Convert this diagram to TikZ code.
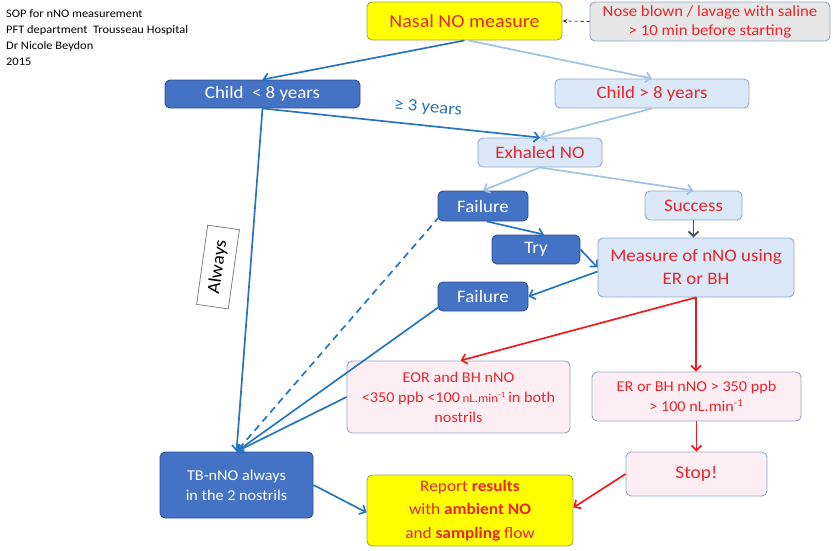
\documentclass[tikz,border=0pt]{standalone}
\usepackage{fontspec}
\setmainfont{Carlito}[FakeStretch=1.08]
\usetikzlibrary{arrows.meta,calc}
\definecolor{dbfill}{HTML}{4472C4}
\definecolor{dbdraw}{HTML}{2F528F}
\definecolor{lbfill}{HTML}{DAE8F7}
\definecolor{lbdraw}{HTML}{8FA8C8}
\definecolor{pkfill}{HTML}{FDEEF3}
\definecolor{yfill}{HTML}{FFFF00}
\definecolor{ydraw}{HTML}{A3A35E}
\definecolor{gyfill}{HTML}{E7E7E7}
\definecolor{redtxt}{HTML}{E5262D}
\definecolor{arrblue}{HTML}{2576BF}
\definecolor{arrlight}{HTML}{9DC3E6}
\definecolor{arrred}{HTML}{EE1C1C}
\definecolor{arrgray}{HTML}{44546A}
\definecolor{labblue}{HTML}{2E75B6}
\begin{document}
\begin{tikzpicture}[x=1pt,y=-1pt,
  box/.style={rounded corners=5pt, align=center, inner sep=2pt, line width=0.9pt,
    font=\fontsize{15}{20}\selectfont},
  darkbox/.style={box, fill=dbfill, draw=dbdraw, text=white},
  lightbox/.style={box, fill=lbfill, draw=lbdraw, text=redtxt},
  pinkbox/.style={box, fill=pkfill, draw=lbdraw, text=redtxt},
  yellowbox/.style={box, fill=yfill, draw=ydraw, text=redtxt},
  graybox/.style={box, fill=gyfill, draw=lbdraw, text=redtxt},
  bigtext/.style={font=\fontsize{17.5}{20}\selectfont},
  tip/.style={-{Straight Barb[length=5pt,width=10pt]}},
  darrow/.style={tip, draw=arrblue, line width=1.7pt},
  larrow/.style={tip, draw=arrlight, line width=1.7pt},
  rarrow/.style={tip, draw=arrred, line width=1.7pt},
  garrow/.style={tip, draw=arrgray, line width=1.7pt},
]
\useasboundingbox (0,0) rectangle (833,550);

\node[anchor=north west, align=left, inner sep=0pt, font=\fontsize{11.5}{16}\selectfont] (hdr) at (6,9)
  {SOP for nNO measurement\\PFT department\ \ Trousseau Hospital\\Dr Nicole Beydon\\2015};

\node[yellowbox, minimum width=195, minimum height=38, font=\fontsize{18.5}{20}\selectfont] (nasal) at (464.5,21) {Nasal NO measure};
\node[graybox, minimum width=240, minimum height=39, font=\fontsize{15.5}{19}\selectfont] (nose) at (710,21.5) {Nose blown / lavage with saline\\> 10 min before starting};
\node[darkbox, minimum width=195, minimum height=28, bigtext] (c8) at (262.5,94) {Child\ \ < 8 years};
\node[lightbox, minimum width=194, minimum height=29, bigtext] (o8) at (652,93.5) {Child > 8 years};
\node[lightbox, minimum width=124, minimum height=29, bigtext] (exh) at (540,152.5) {Exhaled NO};
\node[darkbox, minimum width=90, minimum height=30, bigtext] (fail1) at (483,206) {Failure};
\node[lightbox, minimum width=97, minimum height=29, bigtext] (succ) at (693.5,205.5) {Success};
\node[darkbox, minimum width=88, minimum height=29, bigtext] (try) at (536,249.5) {Try};
\node[lightbox, minimum width=196, minimum height=59, font=\fontsize{17.5}{23}\selectfont] (meas) at (696,267.5) {Measure of nNO using\\ER or BH};
\node[darkbox, minimum width=90, minimum height=29, bigtext] (fail2) at (483,296.5) {Failure};
\node[pinkbox, minimum width=223, minimum height=72] (eor) at (458.5,397)
  {EOR and BH nNO\\<350 ppb <100\,{\fontsize{12}{12}\selectfont nL.min\textsuperscript{-1}}\,in both\\nostrils};
\node[pinkbox, minimum width=209, minimum height=49] (er) at (696.5,396.5)
  {ER or BH nNO > 350 ppb\\> 100 nL.min\textsuperscript{-1}};
\node[pinkbox, minimum width=141, minimum height=44, font=\fontsize{18}{20}\selectfont] (stop) at (696.5,474) {Stop!};
\node[darkbox, minimum width=153, minimum height=66] (tb) at (236.5,485) {TB-nNO always\\in the 2 nostrils};
\node[yellowbox, minimum width=206, minimum height=71, font=\fontsize{16}{23.5}\selectfont] (rep) at (470,510.5)
  {Report \textbf{results}\\with \textbf{ambient NO}\\and \textbf{sampling} flow};

\node[draw=gray, fill=white, line width=0.8pt, rotate=82, minimum width=80, minimum height=32, inner sep=1pt,
  font=\fontsize{18}{18}\selectfont] (always) at (218,267) {Always};
\node[text=labblue, rotate=-5, font=\fontsize{17.5}{20}\selectfont] (ge) at (428,108) {≥ 3 years};

% connectors
\draw[darrow] (nasal.south) -- (c8.north);
\draw[larrow] ($(nasal.south)+(4,0)$) -- (o8.north);
\draw[darrow] (c8.south) -- (exh.north);
\draw[larrow] (o8.south) -- (exh.north);
\draw[larrow] (exh.south) -- (fail1.north);
\draw[larrow] (exh.south) -- (succ.north);
\draw[garrow] (succ.south) -- (succ.south |- meas.north);
\draw[darrow] ($(fail1.south)+(4,0)$) -- ($(try.north)+(8,0)$);
\draw[darrow] (try.east) -- (meas.west);
\draw[darrow] ($(meas.west)+(0,4)$) -- (fail2.east);
\draw[darrow, dashed, dash pattern=on 7pt off 5pt] ($(fail1.south west)+(2,-5)$) -- (tb.north);
\draw[darrow] ($(fail2.south west)+(2,-5)$) -- (tb.north);
\draw[darrow] (c8.south) -- (tb.north);
\draw[darrow] (eor.west) -- (tb.north);
\draw[rarrow] (meas.south) -- ($(eor.north)+(2,0)$);
\draw[rarrow] (meas.south) -- (meas.south |- er.north);
\draw[rarrow] (er.south) -- (stop.north);
\draw[rarrow] (stop.west) -- ($(rep.east)+(0,-3)$);
\draw[darrow] (tb.east) -- ($(rep.west)+(0,2)$);
\draw[-{Stealth[length=5pt,width=4pt]}, draw=black!75, dashed, line width=0.8pt] (nose.west) -- (nasal.east);
\end{tikzpicture}
\end{document}
